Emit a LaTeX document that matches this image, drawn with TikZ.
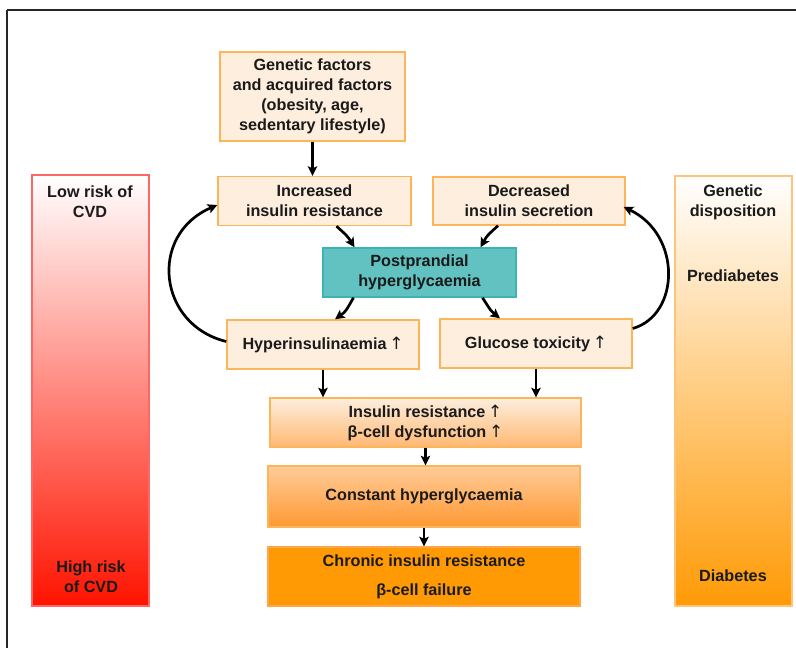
\documentclass[tikz,border=0pt]{standalone}
\usepackage{fontspec}
\setmainfont{Liberation Sans}
\newfontfamily\arrowfont{DejaVu Sans}
\usetikzlibrary{arrows.meta,calc}
\definecolor{peach}{HTML}{FDEEDE}
\definecolor{peachline}{HTML}{FDB55A}
\definecolor{tealfill}{HTML}{62C1C1}
\definecolor{tealline}{HTML}{3CB4B4}
\definecolor{txt}{HTML}{1A1A1A}
\definecolor{orangedeep}{HTML}{FF9A05}
\newcommand{\upar}{\,{\arrowfont\mdseries\fontsize{17}{20}\selectfont ↑}}
\begin{document}
\begin{tikzpicture}[x=1pt,y=-1pt,
  font=\bfseries\fontsize{16.2}{20}\selectfont, text=txt,
  box/.style={draw=peachline, line width=1.4pt, fill=peach, inner sep=0pt, align=center},
  tealbox/.style={draw=tealline, line width=1.4pt, fill=tealfill, inner sep=0pt, align=center},
  bar/.style={line width=1.4pt, inner sep=0pt},
  lbl/.style={inner sep=0pt, align=center},
  conn/.style={line width=2.7pt, -{Stealth[length=9.5pt,width=9.5pt,inset=2pt]}},
  frameline/.style={line width=1.7pt, black!85}]
\useasboundingbox (0,0) rectangle (796,648);
\fill[white] (0,0) rectangle (796,648);
\coordinate (fc) at (7,10);
\draw[frameline] (fc) -- (7,648);
\draw[frameline] (fc) -- (796,10);

% side bars
\node[bar, draw=red!60!white, top color=white, middle color=red!30!white, bottom color=red!85!orange,
      minimum width=117pt, minimum height=431pt] (lbar) at (90.5,390.5) {};
\node[bar, draw=peachline!80!white, top color=white, middle color=orange!22!white, bottom color=orangedeep,
      minimum width=117pt, minimum height=430pt] (rbar) at (733.5,391) {};
\node[lbl] (lowtxt) at (90,202) {Low risk of\\CVD};
\node[lbl] (hightxt) at (91,577) {High risk\\ of CVD};
\node[lbl] (gentxt) at (733,202) {Genetic\\disposition};
\node[lbl] (pretxt) at (733,276) {Prediabetes};
\node[lbl] (diatxt) at (733,576) {Diabetes};

% central boxes
\node[box, minimum width=185pt, minimum height=89pt] (gen) at (312.5,96.5)
  {Genetic factors\\and acquired factors\\(obesity, age,\\sedentary lifestyle)};
\node[box, minimum width=193pt, minimum height=49pt] (inc) at (314.5,201)
  {Increased\\insulin resistance};
\node[box, minimum width=192pt, minimum height=48pt] (dec) at (529,201)
  {Decreased\\insulin secretion};
\node[tealbox, minimum width=193pt, minimum height=49pt] (post) at (419.5,272.5)
  {Postprandial\\hyperglycaemia};
\node[box, minimum width=192pt, minimum height=49pt] (hyp) at (323,344.5)
  {Hyperinsulinaemia\upar};
\node[box, minimum width=192pt, minimum height=49pt] (glu) at (536,343.5)
  {Glucose toxicity\upar};
\node[box, top color=peach, bottom color=orange!55!white, minimum width=311pt, minimum height=49pt] (ir) at (425.5,422.5)
  {Insulin resistance\upar\\β-cell dysfunction\upar};
\node[box, top color=orange!40!white, bottom color=orange!80!white, minimum width=312pt, minimum height=61pt] (con) at (424,496.5)
  {Constant hyperglycaemia};
\node[box, draw=orange!70!white, fill=orangedeep, minimum width=312pt, minimum height=59pt] (chr) at (424,576.5)
  {Chronic insulin resistance\\[9pt]β-cell failure};

% connectors
\draw[conn] (gen.south) -- (gen.south |- inc.north);
\draw[conn] ($(inc.south)+(22,0)$) .. controls ($(inc.south)+(33,10)$) .. ($(post.north)+(-65,0)$);
\draw[conn] ($(dec.south)+(-31,0)$) .. controls ($(dec.south)+(-42,10)$) .. ($(post.north)+(61,0)$);
\draw[conn] ($(post.south)+(-66,0)$) .. controls ($(post.south)+(-74,14)$) .. ($(hyp.north)+(12,0)$);
\draw[conn] ($(post.south)+(63,0)$) .. controls ($(post.south)+(72,14)$) .. ($(glu.north)+(-36,0)$);
\draw[conn] ($(hyp.west)+(0,-3)$) .. controls (158,325) and (148,235) .. ($(inc.west)+(0,4)$);
\draw[conn] ($(glu.east)+(0,-15)$) .. controls (680,315) and (682,235) .. ($(dec.east)+(-2,6)$);
\draw[conn] (hyp.south) -- (hyp.south |- ir.north);
\draw[conn] (glu.south) -- (glu.south |- ir.north);
\draw[conn] (ir.south) -- (ir.south |- con.north);
\draw[conn] (con.south) -- (con.south |- chr.north);
\end{tikzpicture}
\end{document}
